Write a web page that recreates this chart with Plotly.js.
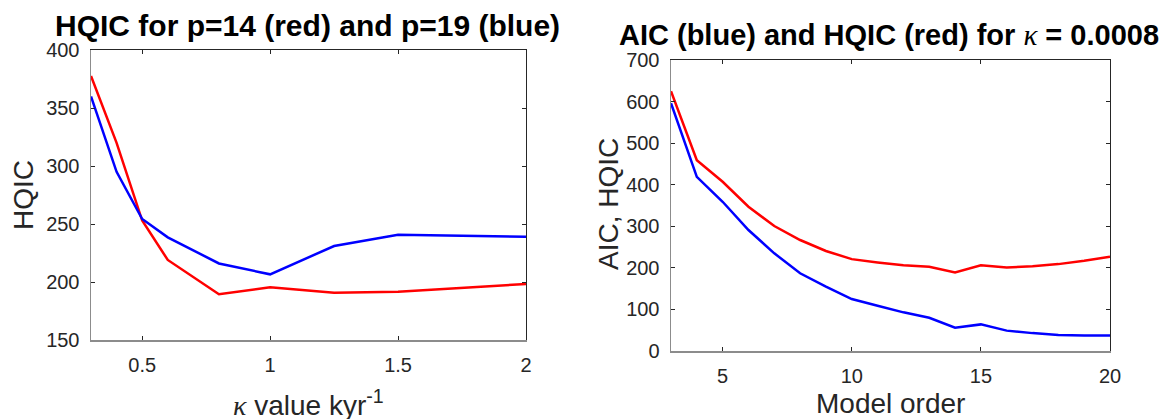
<!DOCTYPE html>
<html>
<head>
<meta charset="utf-8">
<script src="https://cdn.plot.ly/plotly-3.0.1.min.js"></script>
<style>
  html, body { margin: 0; padding: 0; background: #fff; }
  #chart { width: 1161px; height: 419px; }
</style>
</head>
<body>
<div id="chart"></div>
<script>
// ---- Data ----
const kappaValues = [0.3, 0.4, 0.5, 0.6, 0.8, 1.0, 1.25, 1.5, 2.0];
const hqicP14 = [377.6, 320, 253, 219, 189.5, 195.5, 190.8, 191.7, 198.3];
const hqicP19 = [360, 295, 254.3, 238.5, 216, 206.6, 231, 240.8, 239];

const modelOrder = [3, 4, 5, 6, 7, 8, 9, 10, 11, 12, 13, 14, 15, 16, 17, 18, 19, 20];
const aicValues  = [596, 419, 359, 291, 235, 187, 155, 125, 109, 93, 80, 56, 64, 49, 43, 38.5, 37, 37];
const hqicValues = [625, 459, 407, 347, 300.6, 267, 240.5, 221, 213, 206, 202.8, 189, 206, 201, 204, 209, 217, 227];

const leftXTicks = [0.5, 1, 1.5, 2];
const leftXTickText = ['0.5', '1', '1.5', '2'];
const leftYTicks = [150, 200, 250, 300, 350, 400];
const rightXTicks = [5, 10, 15, 20];
const rightYTicks = [0, 100, 200, 300, 400, 500, 600, 700];

const KAPPA = '<span style="font-family:\'Liberation Serif\',serif;font-weight:normal"><i>κ</i></span>';
const leftTitle = '<b>HQIC for p=14 (red) and p=19 (blue)</b>';
const rightTitle = '<b>AIC (blue) and HQIC (red) for </b>' + KAPPA + '<b> = 0.0008</b>';
const leftXLabel = KAPPA + ' value kyr<sup>-1</sup>';
const leftYLabel = 'HQIC';
const rightXLabel = 'Model order';
const rightYLabel = 'AIC, HQIC';

// ---- Layout helpers ----
const W = 1161, H = 419;
const px = v => v / W;
const py = v => 1 - v / H;
const FONT = 'Liberation Sans, Arial, Helvetica, sans-serif';
const TXT = '#262626';
const LW = 2.5;

const traces = [
  { x: kappaValues, y: hqicP14, xaxis: 'x', yaxis: 'y', mode: 'lines',
    line: { color: '#ff0000', width: LW }, showlegend: false, hoverinfo: 'skip' },
  { x: kappaValues, y: hqicP19, xaxis: 'x', yaxis: 'y', mode: 'lines',
    line: { color: '#0000ff', width: LW }, showlegend: false, hoverinfo: 'skip' },
  { x: modelOrder, y: hqicValues, xaxis: 'x2', yaxis: 'y2', mode: 'lines',
    line: { color: '#ff0000', width: LW }, showlegend: false, hoverinfo: 'skip' },
  { x: modelOrder, y: aicValues, xaxis: 'x2', yaxis: 'y2', mode: 'lines',
    line: { color: '#0000ff', width: LW }, showlegend: false, hoverinfo: 'skip' },
  // empty carriers for the mirrored (top/right) box axes
  { x: [], y: [], xaxis: 'x3', yaxis: 'y3', showlegend: false, hoverinfo: 'skip' },
  { x: [], y: [], xaxis: 'x4', yaxis: 'y4', showlegend: false, hoverinfo: 'skip' }
];

const baseAxis = {
  showgrid: false, zeroline: false, showline: true, automargin: false,
  ticks: 'inside', ticklen: 4, tickwidth: 1, tickcolor: TXT,
  tickfont: { family: FONT, size: 20, color: TXT },
  fixedrange: true
};

const leftDomX = [px(91), px(526)];
const leftDomY = [py(340), py(50)];
const rightDomX = [px(671), px(1110)];
const rightDomY = [py(351), py(60)];

const layout = {
  width: W, height: H,
  margin: { l: 0, r: 0, t: 0, b: 0, pad: 0 },
  paper_bgcolor: '#ffffff', plot_bgcolor: '#ffffff',
  font: { family: FONT, color: TXT },
  showlegend: false,
  xaxis: Object.assign({}, baseAxis, {
    domain: leftDomX, anchor: 'y', range: [0.3, 2],
    tickvals: leftXTicks, ticktext: leftXTickText,
    linecolor: '#8c8c8c', linewidth: 1.5, ticklabelstandoff: 6
  }),
  yaxis: Object.assign({}, baseAxis, {
    domain: leftDomY, anchor: 'x', range: [150, 400],
    tickvals: leftYTicks, ticktext: leftYTicks.map(String),
    linecolor: '#8c8c8c', linewidth: 1.5, ticklabelstandoff: 6
  }),
  xaxis2: Object.assign({}, baseAxis, {
    domain: rightDomX, anchor: 'y2', range: [3, 20],
    tickvals: rightXTicks, ticktext: rightXTicks.map(String),
    linecolor: '#8c8c8c', linewidth: 1.5, ticklabelstandoff: 6
  }),
  yaxis2: Object.assign({}, baseAxis, {
    domain: rightDomY, anchor: 'x2', range: [0, 700],
    tickvals: rightYTicks, ticktext: rightYTicks.map(String),
    linecolor: '#8c8c8c', linewidth: 1.5, ticklabelstandoff: 6
  }),
  xaxis3: Object.assign({}, baseAxis, {
    overlaying: 'x', side: 'top', anchor: 'y', range: [0.3, 2],
    tickvals: leftXTicks, showticklabels: false, linecolor: TXT, linewidth: 1
  }),
  yaxis3: Object.assign({}, baseAxis, {
    overlaying: 'y', side: 'right', anchor: 'x', range: [150, 400],
    tickvals: leftYTicks, showticklabels: false, linecolor: TXT, linewidth: 1
  }),
  xaxis4: Object.assign({}, baseAxis, {
    overlaying: 'x2', side: 'top', anchor: 'y2', range: [3, 20],
    tickvals: rightXTicks, showticklabels: false, linecolor: TXT, linewidth: 1
  }),
  yaxis4: Object.assign({}, baseAxis, {
    overlaying: 'y2', side: 'right', anchor: 'x2', range: [0, 700],
    tickvals: rightYTicks, showticklabels: false, linecolor: TXT, linewidth: 1
  }),
  annotations: [
    { text: leftTitle, xref: 'paper', yref: 'paper',
      x: px(307), y: py(25), xanchor: 'center', yanchor: 'middle', showarrow: false,
      font: { family: FONT, size: 30, color: '#000' } },
    { text: rightTitle, xref: 'paper', yref: 'paper',
      x: px(889), y: py(35), xanchor: 'center', yanchor: 'middle', showarrow: false,
      font: { family: FONT, size: 29, color: '#000' } },
    { text: leftYLabel, xref: 'paper', yref: 'paper', textangle: -90,
      x: px(23), y: py(195), xanchor: 'center', yanchor: 'middle', showarrow: false,
      font: { family: FONT, size: 28, color: TXT } },
    { text: rightYLabel, xref: 'paper', yref: 'paper', textangle: -90,
      x: px(608), y: py(204), xanchor: 'center', yanchor: 'middle', showarrow: false,
      font: { family: FONT, size: 28, color: TXT } },
    { text: leftXLabel, xref: 'paper', yref: 'paper',
      x: px(308), y: py(403), xanchor: 'center', yanchor: 'middle', showarrow: false,
      font: { family: FONT, size: 28, color: TXT } },
    { text: rightXLabel, xref: 'paper', yref: 'paper',
      x: px(890), y: py(403.5), xanchor: 'center', yanchor: 'middle', showarrow: false,
      font: { family: FONT, size: 28, color: TXT } }
  ]
};

Plotly.newPlot('chart', traces, layout, { staticPlot: true, displayModeBar: false });
</script>
</body>
</html>
